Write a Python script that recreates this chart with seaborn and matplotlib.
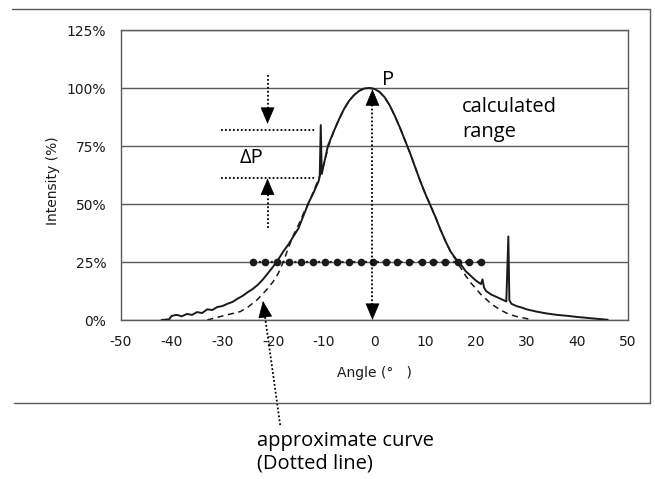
import matplotlib
matplotlib.use("Agg")
import numpy as np
import pandas as pd
import matplotlib.pyplot as plt
import seaborn as sns
from matplotlib.lines import Line2D

# ============================== DATA ==============================
# measured intensity profile (solid line), read off the picture
angle = [-42, -40.5, -40, -39, -38, -37, -36, -35, -34, -33, -32, -31, -30, -29, -28,
         -27, -26, -25, -24, -23, -22, -21, -20, -19, -18, -17, -16, -15, -14, -13,
         -12, -11, -10.8, -10.6, -10.4, -10.2, -9.2, -8, -7, -6, -5, -4, -3, -2, -1,
         0, 1, 2, 3, 4, 5, 6, 7, 8, 9, 10, 11, 12, 13, 14, 15, 16, 17, 18, 19, 20,
         21, 21.3, 21.6, 22, 23, 24, 25, 26, 26.4, 26.6, 27, 28, 29, 30, 32, 34, 36,
         38, 40, 42, 44, 46]
intensity = [0, 0.3, 1.8, 2.2, 1.6, 2.6, 2.2, 3.4, 3.0, 4.6, 4.3, 5.6, 6.0, 7.0, 7.8,
             9.2, 10.4, 12.0, 13.4, 15.2, 17.5, 20.2, 23.0, 26.0, 29.5, 32.5, 36.0, 39.5, 45.0, 50.5,
             55.0, 60.0, 62.0, 84.0, 63.0, 65.0, 75.0, 81.5, 86.5, 91.0, 94.5, 97.0, 98.8, 99.8, 100,
             99.6, 98.3, 96.0, 92.5, 88.0, 83.0, 77.5, 72.0, 66.0, 60.0, 54.5, 49.5, 44.5, 39.0, 34.0,
             29.5, 26.5, 24.0, 21.0, 19.0, 17.0, 15.5, 17.5, 14.0, 12.5, 11.0, 10.0, 9.0, 8.0, 36.0,
             8.5, 7.0, 6.0, 5.4, 4.6, 3.6, 2.8, 2.2, 1.8, 1.3, 0.9, 0.5, 0.1]

# approximate curve (dashed line)
fit_angle = [-33, -30, -28, -26.5, -25, -23.2, -21.5, -20, -19, -18, -17, -16, -15, -14,
             -13, -12, -11, -10, -9, -8, -7, -6, -5, -4, -3, -2, -1, 0, 1, 2, 3, 4, 5, 6,
             7, 8, 9, 10, 11, 12, 13, 14, 15, 16, 17, 18, 19, 20, 21, 22, 23, 24, 25, 26,
             27, 28, 29, 30, 31]
fit_intensity = [0, 1.7, 2.8, 3.6, 5.5, 8.6, 12.5, 16.5, 20.0, 25.0, 31.0, 36.5, 41.0, 46.0,
                 50.5, 55.5, 61.0, 67.0, 75.5, 81.5, 86.5, 91.0, 94.5, 97.0, 98.8, 99.8, 100,
                 99.6, 98.3, 96.0, 92.5, 88.0, 83.0, 77.5, 72.0, 66.0, 60.0, 54.5, 49.5, 44.5,
                 39.0, 34.0, 29.5, 26.0, 22.5, 19.0, 16.0, 13.5, 11.0, 9.0, 7.0, 5.5, 4.2, 3.0,
                 2.2, 1.5, 1.1, 0.6, 0]

# calculated range sample points at 25 %
range_angle = [-23.9, -21.5, -19.2, -16.8, -14.4, -12.1, -9.7, -7.3, -5.0, -2.6,
               -0.2, 2.2, 4.5, 6.9, 9.3, 11.6, 14.0, 16.4, 18.7, 21.1]
range_level = [25] * len(range_angle)

x_ticks = [-50, -40, -30, -20, -10, 0, 10, 20, 30, 40, 50]
y_ticks = [0, 25, 50, 75, 100, 125]
y_tick_labels = ["0%", "25%", "50%", "75%", "100%", "125%"]

peak_angle = -0.4
peak_value = 100
dp_upper = 82
dp_lower = 61

# ============================== STYLE ==============================
sns.set_theme(style="white")
plt.rcParams["font.family"] = ["DejaVu Sans"]
plt.rcParams["axes.unicode_minus"] = False

note_font = dict(family="Open Sans", fontsize=14.5, color="black")
ink = "#1a1a1a"
grid_col = "#5a5a5a"

fig = plt.figure(figsize=(6.55, 4.79), dpi=100)
ax = fig.add_axes([121 / 655, 1 - 320 / 479, 507 / 655, 290 / 479])

measured = pd.DataFrame({"angle": angle, "intensity": intensity})
fitted = pd.DataFrame({"angle": fit_angle, "intensity": fit_intensity})
calc = pd.DataFrame({"angle": range_angle, "intensity": range_level})

# horizontal grid
for yv in y_ticks:
    ax.axhline(yv, color=grid_col, lw=1.0, zorder=0)

sns.lineplot(data=fitted, x="angle", y="intensity", ax=ax, color=ink, lw=1.1,
             estimator=None, sort=False, linestyle=(0, (4, 3)), zorder=2)
sns.lineplot(data=measured, x="angle", y="intensity", ax=ax, color=ink, lw=1.4,
             estimator=None, sort=False, zorder=3)
sns.lineplot(data=calc, x="angle", y="intensity", ax=ax, color=ink, lw=1.6,
             linestyle=":", marker="o", markersize=5.5, markeredgewidth=0,
             estimator=None, sort=False, zorder=4)

ax.set_xlim(-50, 50)
ax.set_ylim(0, 125)
ax.set_xticks(x_ticks)
ax.set_yticks(y_ticks)
ax.set_yticklabels(y_tick_labels)
ax.tick_params(axis="x", direction="in", length=3, width=0.8, color=ink,
               labelsize=10, labelcolor=ink, pad=11)
ax.tick_params(axis="y", length=0, labelsize=10, labelcolor=ink, pad=10.5)
for s in ax.spines.values():
    s.set_color(grid_col)
    s.set_linewidth(1.0)
ax.set_xlabel("Angle (°   )", fontsize=10, color=ink)
ax.set_ylabel("Intensity (%)", fontsize=10, color=ink)
ax.xaxis.set_label_coords(0.5, -0.16)
ax.yaxis.set_label_coords(-0.12, 0.48)


def head(tip, tail):
    ax.annotate("", xy=tip, xytext=tail, annotation_clip=False,
                arrowprops=dict(arrowstyle="-|>,head_length=1.0,head_width=0.42",
                                mutation_scale=11, color="black", lw=0.5,
                                shrinkA=0, shrinkB=0))


def dotted(xs, ys):
    ax.plot(xs, ys, color="black", lw=1.3, linestyle=(0, (1, 1.2)), clip_on=False, zorder=5)


# peak arrow (P)
dotted([peak_angle, peak_angle], [3, 97])
head((peak_angle, peak_value - 0.5), (peak_angle, peak_value - 6))
head((peak_angle, 0), (peak_angle, 6))
ax.text(1.5, 101.3, "P", ha="left", va="baseline", **note_font)

# delta P
dotted([-30.2, -11.6], [dp_upper, dp_upper])
dotted([-30.2, -11.6], [dp_lower, dp_lower])
dotted([-21.1, -21.1], [105.6, 90])
head((-21.1, dp_upper + 2.5), (-21.1, dp_upper + 9))
dotted([-21.1, -21.1], [39.7, 55])
head((-21.1, dp_lower), (-21.1, dp_lower - 6.5))
ax.text(-26.6, 67.7, "ΔP", ha="left", va="baseline", **note_font)

ax.text(17.3, 89.8, "calculated", ha="left", va="baseline", **note_font)
ax.text(17.3, 79.0, "range", ha="left", va="baseline", **note_font)

# approximate curve pointer
dotted([-18.6, -21.7], [-45.3, 3])
head((-22.0, 8.2), (-21.6, 2.0))
ax.text(-23.2, -54.3, "approximate curve", ha="left", va="baseline", **note_font)
ax.text(-23.2, -63.8, "(Dotted line)", ha="left", va="baseline", **note_font)

# outer frame of the scanned figure (top, right, bottom)
W, H = 655, 479
for (x0, y0, x1, y1) in [(12, 9, 650, 9), (650, 9, 650, 403), (14, 403, 650, 403)]:
    fig.add_artist(Line2D([x0 / W, x1 / W], [1 - y0 / H, 1 - y1 / H],
                          transform=fig.transFigure, color=grid_col, lw=1.0))

fig.savefig("out.png", dpi=100, facecolor="white")
